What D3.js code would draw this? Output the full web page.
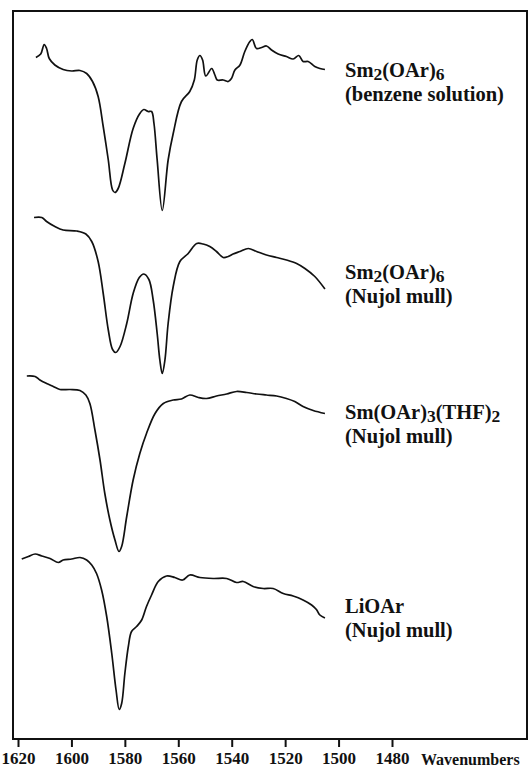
<!DOCTYPE html>
<html>
<head>
<meta charset="utf-8">
<script src="https://cdn.jsdelivr.net/npm/d3@7"></script>
<style>
  body { margin: 0; background: #fff; }
  text { font-family: "Liberation Serif", "DejaVu Serif", serif; font-weight: bold; fill: #111; }
</style>
</head>
<body>
<script>
// wavenumber (cm-1) and transmittance (arbitrary units, curves offset)
const benzeneSoln = [
  [1613.3,136.5],[1611.5,137.2],[1610.2,139.1],[1609.3,138.3],[1608.3,136.3],[1606.2,135.0],
  [1603.1,134.1],[1599.9,133.8],[1596.8,133.9],[1594.3,133.3],[1592.1,131.7],[1590.0,128.7],
  [1588.1,122.7],[1586.2,116.0],[1584.6,110.0],[1583.7,109.5],[1582.5,110.3],[1580.0,115.3],
  [1576.9,122.3],[1574.4,125.3],[1572.9,126.1],[1571.3,125.7],[1570.0,125.7],[1569.1,123.3],
  [1567.9,116.0],[1566.0,105.9],[1563.8,116.0],[1561.9,121.3],[1558.8,127.7],[1555.7,129.7],
  [1554.0,132.0],[1552.9,136.0],[1551.9,136.9],[1550.9,136.0],[1549.7,132.8],[1547.5,134.3],
  [1546.3,133.0],[1545.4,132.0],[1543.2,132.0],[1541.3,131.7],[1540.1,132.3],[1538.8,134.0],
  [1536.9,135.0],[1535.1,137.7],[1533.2,139.7],[1532.3,140.1],[1530.7,138.3],[1528.8,138.5],
  [1527.0,138.8],[1525.1,138.0],[1522.6,137.2],[1519.5,136.7],[1517.0,136.2],[1514.9,136.9],
  [1513.3,135.7],[1511.4,135.7],[1508.9,134.7],[1507.0,134.3],[1505.1,134.1]
];
const smNujol = [
  [1614.0,104.5],[1611.1,104.5],[1609.3,103.7],[1606.2,102.7],[1603.1,102.0],[1598.0,101.8],
  [1594.6,101.2],[1592.4,99.7],[1590.0,95.7],[1588.1,89.3],[1586.2,82.0],[1584.6,78.1],
  [1583.4,77.5],[1581.8,78.7],[1579.3,83.3],[1576.9,89.3],[1574.6,92.5],[1572.9,93.2],
  [1571.0,92.1],[1569.4,88.0],[1567.9,81.3],[1566.9,76.0],[1566.0,73.3],[1565.0,76.0],
  [1563.8,83.3],[1561.9,90.7],[1559.4,95.7],[1556.3,97.3],[1553.1,99.3],[1550.7,99.2],
  [1548.2,98.7],[1545.7,97.7],[1543.2,96.5],[1541.3,96.7],[1539.5,97.2],[1536.9,97.7],
  [1533.8,98.3],[1530.7,97.7],[1527.0,97.0],[1523.2,96.5],[1519.5,96.0],[1515.7,95.3],
  [1512.6,94.3],[1508.9,92.7],[1505.1,90.2]
];
const thfNujol = [
  [1616.7,72.8],[1613.6,72.7],[1611.8,72.0],[1609.3,71.3],[1606.8,70.7],[1604.3,70.1],
  [1600.5,70.1],[1596.8,69.9],[1594.6,69.0],[1593.1,67.3],[1591.2,62.0],[1589.3,56.0],
  [1587.5,49.3],[1585.6,44.0],[1583.7,40.0],[1582.2,37.7],[1581.2,38.7],[1579.3,44.7],
  [1576.9,52.0],[1574.4,57.3],[1571.9,61.3],[1568.7,65.3],[1565.6,67.3],[1561.9,68.0],
  [1558.8,68.2],[1555.7,69.0],[1552.5,68.5],[1549.4,68.3],[1545.7,68.8],[1541.9,69.2],
  [1538.2,69.7],[1534.4,69.5],[1530.7,69.2],[1527.0,69.0],[1523.2,68.8],[1519.5,68.3],
  [1516.4,67.7],[1513.3,66.7],[1509.5,65.9],[1505.1,65.3]
];
const liNujol = [
  [1618.6,36.2],[1616.1,36.7],[1613.6,37.2],[1611.1,36.8],[1608.0,36.3],[1604.9,35.5],
  [1603.1,36.0],[1599.9,36.2],[1596.8,36.5],[1594.3,36.0],[1592.4,35.0],[1590.6,33.3],
  [1588.7,30.0],[1586.8,24.7],[1584.9,17.3],[1583.3,10.0],[1582.1,6.1],[1581.2,7.3],
  [1580.0,13.3],[1578.7,18.7],[1577.5,21.7],[1575.6,22.7],[1573.7,24.0],[1571.9,26.7],
  [1570.0,29.0],[1567.5,31.7],[1564.4,32.8],[1561.3,32.5],[1558.4,32.0],[1555.7,33.0],
  [1551.9,32.5],[1546.9,32.3],[1541.9,32.3],[1538.2,31.5],[1535.7,31.7],[1532.0,30.7],
  [1528.2,30.3],[1524.5,30.3],[1520.7,29.3],[1517.0,28.8],[1513.3,28.0],[1510.1,27.0],
  [1508.3,26.1],[1507.0,25.0],[1505.1,24.4]
];

const seriesData = [benzeneSoln, smNujol, thfNujol, liNujol];
// label lines; [text, "sub"] pieces for the formula line
const labelFormulas = [
  [["Sm", ""], ["2", "sub"], ["(OAr)", ""], ["6", "sub"]],
  [["Sm", ""], ["2", "sub"], ["(OAr)", ""], ["6", "sub"]],
  [["Sm(OAr)", ""], ["3", "sub"], ["(THF)", ""], ["2", "sub"]],
  [["LiOAr", ""]]
];
const labelMedia = ["(benzene solution)", "(Nujol mull)", "(Nujol mull)", "(Nujol mull)"];
const labelTops = [77, 279, 419, 613];
const tickValues = [1620, 1600, 1580, 1560, 1540, 1520, 1500, 1480];

const width = 529, height = 767;

const svg = d3.select("body").append("svg")
  .attr("width", width)
  .attr("height", height);

const x = d3.scaleLinear().domain([1620, 1480]).range([18, 392]);
const y = d3.scaleLinear().domain([0, 146]).range([740, 10]);

// frame
svg.append("rect")
  .attr("x", 13).attr("y", 11)
  .attr("width", 514).attr("height", 728)
  .attr("fill", "none")
  .attr("stroke", "#111")
  .attr("stroke-width", 2);

// x axis
const axis = svg.append("g")
  .attr("transform", "translate(0,740)")
  .call(d3.axisBottom(x).tickValues(tickValues).tickSize(7).tickFormat(d3.format("d")));
axis.select(".domain").remove();
axis.selectAll(".tick line").attr("stroke", "#111").attr("stroke-width", 2);
axis.selectAll(".tick text")
  .attr("y", 12)
  .style("font-family", "'Liberation Serif', serif")
  .style("font-weight", "bold")
  .style("font-size", "17px")
  .attr("fill", "#111");

svg.append("text")
  .attr("x", 421).attr("y", 765)
  .style("font-size", "16px")
  .text("Wavenumbers");

const line = d3.line()
  .x(d => x(d[0]))
  .y(d => y(d[1]))
  .curve(d3.curveCatmullRom.alpha(0.5));

svg.selectAll("path.spectrum")
  .data(seriesData)
  .join("path")
  .attr("class", "spectrum")
  .attr("d", line)
  .attr("fill", "none")
  .attr("stroke", "#111")
  .attr("stroke-width", 1.7)
  .attr("stroke-linejoin", "round");

// labels
labelFormulas.forEach((parts, i) => {
  const t = svg.append("text")
    .attr("x", 345).attr("y", labelTops[i])
    .style("font-size", "20.5px");
  let down = false;
  parts.forEach(p => {
    const s = t.append("tspan").text(p[0]);
    if (p[1] === "sub") { s.attr("dy", 3).style("font-size", "17.5px"); down = true; }
    else if (down) { s.attr("dy", -3); down = false; }
  });
  svg.append("text")
    .attr("x", 345).attr("y", labelTops[i] + 24)
    .style("font-size", "20.5px")
    .text(labelMedia[i]);
});
</script>
</body>
</html>
